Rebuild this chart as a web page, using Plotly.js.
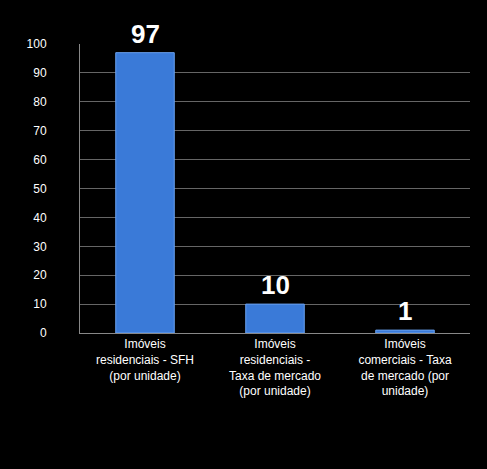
<!DOCTYPE html>
<html>
<head>
<meta charset="utf-8">
<script src="https://cdn.plot.ly/plotly-3.0.1.min.js"></script>
<style>html,body{margin:0;padding:0;background:#000;}</style>
</head>
<body>
<div id="chart" style="width:487px;height:469px;"></div>
<script>
var categories = ["Imóveis<br>residenciais - SFH<br>(por unidade)", "Imóveis<br>residenciais -<br>Taxa de mercado<br>(por unidade)", "Imóveis<br>comerciais - Taxa<br>de mercado (por<br>unidade)"];
var values = [97, 10, 1];
var yTicks = [0, 10, 20, 30, 40, 50, 60, 70, 80, 90, 100];

var data = [{
  x: categories,
  y: values,
  type: "bar",
  width: 0.45,
  marker: {color: "#3a7ad8", line: {color: "#6aa2f0", width: 1}},
  hoverinfo: "none"
}];

var annotations = [];
for (let i = 0; i < values.length; i++) {
  annotations.push({
    x: categories[i], y: values[i], text: "<b>" + values[i] + "</b>",
    showarrow: false, yanchor: "bottom", yshift: 2,
    font: {family: "Liberation Sans, Arial", size: 26, color: "#fff"}
  });
}

var layout = {
  paper_bgcolor: "#000",
  plot_bgcolor: "#000",
  margin: {l: 80, r: 17, t: 44, b: 136},
  showlegend: false,
  font: {family: "Liberation Sans, Arial", color: "#fff", size: 12},
  xaxis: {
    tickfont: {size: 12, color: "#fff"},
    showline: true, linecolor: "#888", showgrid: false
  },
  yaxis: {
    range: [0, 100], tickvals: yTicks, ticklabelstandoff: 30,
    gridcolor: "#666", showline: true, linecolor: "#888", zeroline: false,
    tickfont: {size: 12, color: "#fff"}
  },
  annotations: annotations
};

Plotly.newPlot("chart", data, layout, {displayModeBar: false, staticPlot: true});
</script>
</body>
</html>
